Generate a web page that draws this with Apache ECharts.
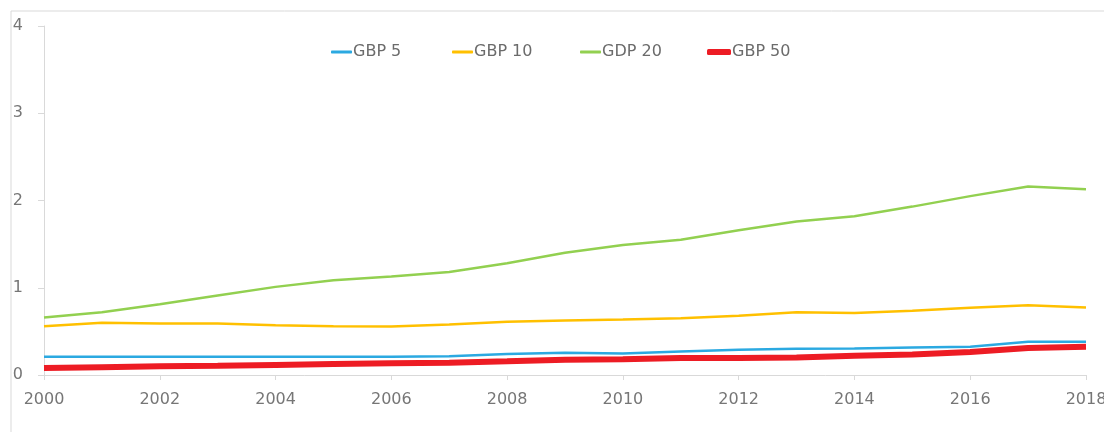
<!DOCTYPE html>
<html>
<head>
<meta charset="utf-8">
<script src="https://cdn.jsdelivr.net/npm/echarts@6/dist/echarts.min.js"></script>
<style>
  html, body { margin: 0; padding: 0; background: #fff; }
  #chart { width: 1104px; height: 432px; }
</style>
</head>
<body>
<div id="chart"></div>
<script>
const years = ['2000', '2001', '2002', '2003', '2004', '2005', '2006', '2007', '2008', '2009',
  '2010', '2011', '2012', '2013', '2014', '2015', '2016', '2017', '2018']

const gbp5 = [0.21, 0.21, 0.21, 0.21, 0.21, 0.21, 0.21, 0.215, 0.24, 0.255,
  0.245, 0.27, 0.29, 0.30, 0.305, 0.315, 0.325, 0.38, 0.38]
const gbp10 = [0.56, 0.60, 0.59, 0.59, 0.57, 0.56, 0.555, 0.58, 0.61, 0.625,
  0.635, 0.65, 0.68, 0.72, 0.71, 0.735, 0.77, 0.80, 0.775]
const gdp20 = [0.66, 0.72, 0.81, 0.91, 1.01, 1.085, 1.13, 1.18, 1.28, 1.40,
  1.49, 1.55, 1.66, 1.76, 1.82, 1.93, 2.05, 2.16, 2.13]
const gbp50 = [0.08, 0.09, 0.10, 0.105, 0.115, 0.125, 0.135, 0.14, 0.157, 0.175,
  0.18, 0.194, 0.195, 0.20, 0.22, 0.236, 0.263, 0.31, 0.323]

const yTicks = [0, 1, 2, 3, 4]

const chart = echarts.init(document.getElementById('chart'))

const grey = '#767676'
const font = 'DejaVu Sans'

function legendAt(name, left, thick) {
  return {
    data: [name],
    left: left,
    top: 44,
    icon: 'roundRect',
    itemWidth: thick > 3 ? 24 : 21,
    itemHeight: thick,
    itemGap: 0,
    padding: 0,
    textStyle: { color: '#6b6b6b', fontSize: 16, fontFamily: font, padding: [0, 0, 0, -4] }
  }
}

function lineSeries(name, data, color, width) {
  return {
    name: name,
    type: 'line',
    data: data,
    symbol: 'none',
    lineStyle: { color: color, width: width },
    itemStyle: { color: color }
  }
}

const options = {
  animation: false,
  graphic: [
    {
      type: 'rect',
      shape: { x: 11, y: 11, width: 1110, height: 440 },
      style: { fill: 'none', stroke: '#d9d9d9', lineWidth: 1 },
      silent: true
    }
  ],
  legend: [
    legendAt('GBP 5', 331, 3),
    legendAt('GBP 10', 452, 3),
    legendAt('GDP 20', 580, 3),
    legendAt('GBP 50', 707, 6)
  ],
  grid: {
    left: 44,
    right: 18,
    top: 26,
    bottom: 57,
    containLabel: false,
    outerBoundsMode: 'none'
  },
  xAxis: {
    type: 'category',
    data: years,
    boundaryGap: false,
    axisLine: { lineStyle: { color: '#d9d9d9', width: 1 } },
    axisTick: { interval: 1, length: 5, lineStyle: { color: '#d9d9d9' } },
    axisLabel: { interval: 1, color: grey, fontSize: 16, fontFamily: font, margin: 17 },
    splitLine: { show: false }
  },
  yAxis: {
    type: 'value',
    min: yTicks[0],
    max: yTicks[yTicks.length - 1],
    interval: 1,
    axisLine: { show: true, lineStyle: { color: '#d9d9d9', width: 1 } },
    axisTick: { show: true, length: 6, lineStyle: { color: '#d9d9d9' } },
    axisLabel: { color: grey, fontSize: 16, fontFamily: font, margin: 21 },
    splitLine: { show: false }
  },
  series: [
    lineSeries('GBP 5', gbp5, '#2BA9E1', 2.5),
    lineSeries('GBP 10', gbp10, '#FFC000', 2.5),
    lineSeries('GDP 20', gdp20, '#92D050', 2.5),
    lineSeries('GBP 50', gbp50, '#ED1C24', 6)
  ]
}

chart.setOption(options)
</script>
</body>
</html>
